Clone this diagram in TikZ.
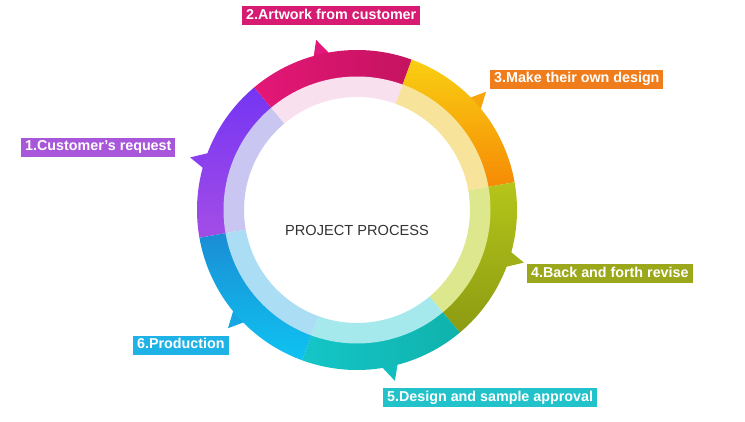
\documentclass[tikz,border=0pt]{standalone}
\usepackage{fontspec}
\setmainfont{Liberation Sans}
\usetikzlibrary{calc}

% colours of the six stages
\definecolor{purpleA}{HTML}{7535F3}
\definecolor{purpleB}{HTML}{A34DE6}
\definecolor{purpleT}{HTML}{8A40EE}
\definecolor{purpleL}{HTML}{A957DA}
\definecolor{purpleI}{HTML}{C9C7F2}
\definecolor{pinkA}{HTML}{E41777}
\definecolor{pinkB}{HTML}{C4135F}
\definecolor{pinkT}{HTML}{E2177A}
\definecolor{pinkL}{HTML}{D81B72}
\definecolor{pinkI}{HTML}{F9E0EF}
\definecolor{orangeA}{HTML}{F9CF12}
\definecolor{orangeB}{HTML}{F68A05}
\definecolor{orangeT}{HTML}{F7A50A}
\definecolor{orangeL}{HTML}{EF7D1C}
\definecolor{orangeI}{HTML}{F7E49A}
\definecolor{greenA}{HTML}{B5C51A}
\definecolor{greenB}{HTML}{8C9B12}
\definecolor{greenT}{HTML}{A0B016}
\definecolor{greenL}{HTML}{9CA81B}
\definecolor{greenI}{HTML}{DDE88E}
\definecolor{tealA}{HTML}{14C6C8}
\definecolor{tealB}{HTML}{10B2AC}
\definecolor{tealT}{HTML}{12BDBE}
\definecolor{tealL}{HTML}{22C2CA}
\definecolor{tealI}{HTML}{A6E9EC}
\definecolor{blueA}{HTML}{1A8DD4}
\definecolor{blueB}{HTML}{0FC3F2}
\definecolor{blueT}{HTML}{16A6E2}
\definecolor{blueL}{HTML}{1EB2E6}
\definecolor{blueI}{HTML}{ABDDF4}

\tikzset{
	steplabel/.style={anchor=west, text=white, font=\bfseries\fontsize{14.3}{16}\selectfont,
		inner xsep=4pt, inner ysep=3pt, text height=10pt, text depth=3pt},
	segpurple/.style={top color=purpleA, bottom color=purpleB},
	segpink/.style={left color=pinkA, right color=pinkB},
	segorange/.style={top color=orangeA, bottom color=orangeB},
	seggreen/.style={top color=greenA, bottom color=greenB},
	segteal/.style={left color=tealA, right color=tealB},
	segblue/.style={top color=blueA, bottom color=blueB}
}

\begin{document}
\begin{tikzpicture}[x=1pt,y=1pt]
	\useasboundingbox[fill=white] (0,0) rectangle (745,422);
	
	\begin{scope}[shift={(357,212)}]
		% little pointers on the outer edge
		\foreach \m/\col in {160/purpleT, 101/pinkT, 40/orangeT, -20/greenT, -80/tealT, -140/blueT} {
			\fill[\col] ({\m-2}:155) -- ({\m+2.5}:175) -- ({\m+5.5}:155) -- cycle;
		}
		
		% outer coloured band
		\foreach \s/\e/\sty in {190/130/segpurple, 130/70/segpink, 70/10/segorange, 10/-50/seggreen, -50/-110/segteal, -110/-170/segblue} {
			\shade[\sty] (\s:160) arc[start angle=\s, end angle=\e, radius=160pt]
				-- (\e:133) arc[start angle=\e, end angle=\s, radius=133pt] -- cycle;
		}
		
		% inner pale band
		\foreach \s/\e/\col in {190/130/purpleI, 130/70/pinkI, 70/10/orangeI, 10/-50/greenI, -50/-110/tealI, -110/-170/blueI} {
			\fill[\col] (\s:133.5) arc[start angle=\s, end angle=\e, radius=133.5pt]
				-- (\e:113) arc[start angle=\e, end angle=\s, radius=113pt] -- cycle;
		}
		
		\node[text=black!80, font=\fontsize{14.6}{16}\selectfont] (title) at (0,-20) {PROJECT PROCESS};
	\end{scope}
	
	% stage labels
	\node[steplabel, fill=purpleL] (l1) at (21,274.5) {1.Customer's request};
	\node[steplabel, fill=pinkL] (l2) at (242,406) {2.Artwork from customer};
	\node[steplabel, fill=orangeL] (l3) at (490,342.5) {3.Make their own design};
	\node[steplabel, fill=greenL] (l4) at (527,148) {4.Back and forth revise};
	\node[steplabel, fill=tealL] (l5) at (383,24) {5.Design and sample approval};
	\node[steplabel, fill=blueL] (l6) at (133,76.5) {6.Production};
	
\end{tikzpicture}
\end{document}
